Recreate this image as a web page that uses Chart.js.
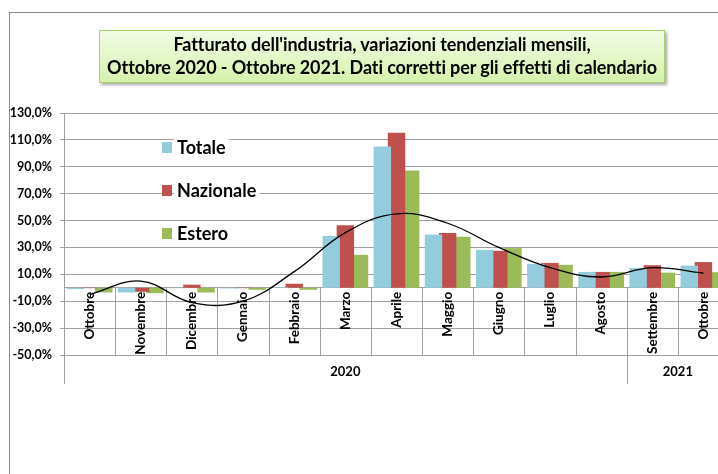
<!DOCTYPE html>
<html>
<head>
<meta charset="utf-8">
<script src="https://cdn.jsdelivr.net/npm/chart.js@4.4.0/dist/chart.umd.min.js"></script>
<style>
  html, body { margin: 0; padding: 0; background: #fff; overflow: hidden; width: 718px; height: 474px; }
  #frame { position: absolute; left: 9px; top: 12px; width: 800px; height: 600px;
    border-left: 1.5px solid #8c8c8c; border-top: 1.5px solid #8c8c8c; }
  #wrap { position: absolute; left: 0; top: 0; width: 729px; height: 474px; }
  #title { position: absolute; left: 99px; top: 30px; width: 566px; height: 53px; box-sizing: border-box;
    border: 1px solid #a9cf6e; background: linear-gradient(#f2fce6, #d5f2ab);
    box-shadow: 2px 2px 3px rgba(0,0,0,0.35);
    font: bold 18px Lato, sans-serif; text-align: center; line-height: 23px; padding-top: 2px; color: #000;
    letter-spacing: -0.1px; white-space: nowrap; }
</style>
</head>
<body>
<div id="frame"></div>
<div id="wrap"><canvas id="chart" width="729" height="474"></canvas></div>
<div id="title">Fatturato dell'industria, variazioni tendenziali mensili,<br>Ottobre 2020 - Ottobre 2021. Dati corretti per gli effetti di calendario</div>
<script>
const months = ['Ottobre', 'Novembre', 'Dicembre', 'Gennaio', 'Febbraio', 'Marzo', 'Aprile',
  'Maggio', 'Giugno', 'Luglio', 'Agosto', 'Settembre', 'Ottobre'];
const years = ['2020', '2021'];
const monthsPerYear = [11, 2];

const totale    = [-1.0, -3.5, -0.3, -0.5,  0.4, 38.6, 105.1, 39.6, 28.2, 17.8, 11.8, 14.8, 16.5];
const nazionale = [-0.3, -3.0,  2.3, -0.3,  3.0, 46.6, 115.3, 40.7, 27.5, 18.5, 11.8, 16.8, 19.1];
const estero    = [-3.5, -4.0, -3.5, -1.5, -1.5, 24.5,  87.3, 37.9, 29.5, 17.1, 11.8, 11.3, 11.6];
const tendenza  = [-5.0,  5.0, -11.0, -10.0, 12.0, 41.0, 55.0, 48.0, 30.0, 15.0,  8.0, 15.0, 11.0];

const yTicks = [-50, -30, -10, 10, 30, 50, 70, 90, 110, 130];

const GRID = '#a0a0a0';
const FONT = 'Lato, sans-serif';

// bordi delle categorie e riga degli anni sotto l'asse
const tablePlugin = {
  id: 'catTable',
  beforeDatasetsDraw(chart) {
    const ctx = chart.ctx;
    const x = chart.scales.x;
    const y = chart.scales.y;
    const zero = y.getPixelForValue(0);
    const bottom = chart.chartArea.bottom;
    const step = x.getPixelForValue(1) - x.getPixelForValue(0);
    const edge = i => x.getPixelForValue(i) - step / 2;
    ctx.save();
    ctx.strokeStyle = GRID;
    ctx.lineWidth = 1;
    ctx.beginPath();
    for (let i = 0; i <= months.length; i++) {
      const px = Math.round(edge(i)) + 0.5;
      ctx.moveTo(px, zero);
      ctx.lineTo(px, bottom + 1);
    }
    let start = 0;
    const yearBottom = bottom + 29;
    ctx.moveTo(Math.round(edge(0)) + 0.5, bottom);
    ctx.lineTo(Math.round(edge(0)) + 0.5, yearBottom);
    monthsPerYear.forEach(n => {
      const px = Math.round(edge(start + n)) + 0.5;
      ctx.moveTo(px, bottom);
      ctx.lineTo(px, yearBottom);
      start += n;
    });
    ctx.stroke();
    ctx.fillStyle = '#000';
    ctx.font = 'bold 13px ' + FONT;
    ctx.textAlign = 'center';
    ctx.textBaseline = 'middle';
    start = 0;
    years.forEach((yr, k) => {
      const n = monthsPerYear[k];
      ctx.fillText(yr, (edge(start) + edge(start + n)) / 2, bottom + 17);
      start += n;
    });
    ctx.restore();
  }
};

// legenda verticale dentro l'area del grafico
const legendPlugin = {
  id: 'sideLegend',
  afterDraw(chart) {
    const ctx = chart.ctx;
    ctx.save();
    ctx.font = 'bold 18px ' + FONT;
    ctx.textBaseline = 'middle';
    chart.data.datasets.filter(d => d.type !== 'line').forEach((ds, i) => {
      const cy = 147 + i * 43;
      const w = ctx.measureText(ds.label).width;
      ctx.fillStyle = '#fff';
      ctx.fillRect(174, cy - 9, w + 6, 18);
      ctx.fillStyle = ds.backgroundColor;
      ctx.fillRect(162, cy - 5, 10, 11);
      ctx.fillStyle = '#000';
      ctx.fillText(ds.label, 177, cy + 1);
    });
    ctx.restore();
  }
};

const barOpts = { barPercentage: 1.23, categoryPercentage: 0.83, borderWidth: 0 };

new Chart(document.getElementById('chart'), {
  data: {
    labels: months,
    datasets: [
      { type: 'bar', label: 'Totale', data: totale, backgroundColor: '#93cddd', ...barOpts },
      { type: 'bar', label: 'Nazionale', data: nazionale, backgroundColor: '#c0504d', ...barOpts },
      { type: 'bar', label: 'Estero', data: estero, backgroundColor: '#9bbb59', ...barOpts },
      { type: 'line', label: 'Tendenza', data: tendenza, borderColor: '#000', borderWidth: 1.3,
        pointRadius: 0, tension: 0.4, fill: false, order: -1 }
    ]
  },
  options: {
    responsive: false,
    animation: false,
    layout: { padding: { left: 0, top: 113, right: 0, bottom: 119 } },
    plugins: { legend: { display: false }, tooltip: { enabled: false } },
    scales: {
      x: {
        type: 'category',
        position: { y: 0 },
        offset: true,
        grid: { display: false, drawTicks: false },
        border: { display: true, color: GRID, width: 1 },
        ticks: {
          autoSkip: false, minRotation: 90, maxRotation: 90, padding: 4,
          color: '#000', font: { family: FONT, weight: 'bold', size: 13.5 }
        }
      },
      y: {
        min: -50,
        max: 130,
        afterBuildTicks(scale) { scale.ticks = yTicks.map(v => ({ value: v })); },
        afterFit(scale) { scale.width = 64; },
        grid: { color: GRID, lineWidth: 1, tickLength: 4 },
        border: { display: true, color: GRID, width: 1 },
        ticks: {
          padding: 8, color: '#000', font: { family: FONT, weight: 'bold', size: 12.5 },
          callback: v => v.toFixed(1).replace('.', ',') + '%'
        }
      }
    }
  },
  plugins: [tablePlugin, legendPlugin]
});
</script>
</body>
</html>
